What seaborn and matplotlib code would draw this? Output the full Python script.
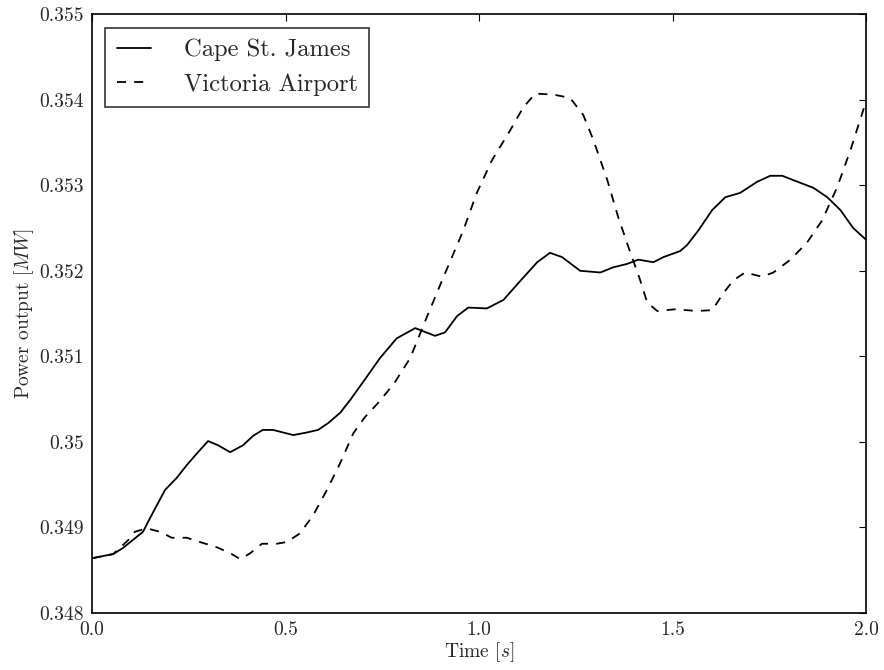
import pandas as pd
import matplotlib
matplotlib.use('Agg')
import matplotlib.pyplot as plt
import seaborn as sns

# Cape St. James (solid)
cape_t = [0.0, 0.055, 0.08, 0.132, 0.15, 0.189, 0.219, 0.245, 0.274, 0.30, 0.326, 0.357,
          0.39, 0.416, 0.441, 0.468, 0.52, 0.555, 0.584, 0.61, 0.641, 0.667, 0.705, 0.744,
          0.787, 0.835, 0.886, 0.912, 0.943, 0.972, 1.02, 1.063, 1.106, 1.15, 1.183, 1.214,
          1.261, 1.313, 1.346, 1.382, 1.411, 1.45, 1.476, 1.519, 1.537, 1.566, 1.602, 1.636,
          1.674, 1.718, 1.752, 1.783, 1.817, 1.863, 1.899, 1.933, 1.966, 2.0]
cape_p = [0.34864, 0.34869, 0.34876, 0.34895, 0.34911, 0.34944, 0.34958, 0.34973, 0.34988,
          0.35001, 0.34996, 0.34988, 0.34996, 0.35007, 0.35014, 0.35014, 0.35008, 0.35011,
          0.35014, 0.35022, 0.35034, 0.35049, 0.35073, 0.35098, 0.35121, 0.35133, 0.35124,
          0.35128, 0.35147, 0.35157, 0.35156, 0.35166, 0.35188, 0.35210, 0.35221, 0.35216,
          0.35200, 0.35198, 0.35204, 0.35208, 0.35213, 0.35210, 0.35216, 0.35223, 0.35230,
          0.35247, 0.35271, 0.35286, 0.35291, 0.35304, 0.35311, 0.35311, 0.35305, 0.35297,
          0.35286, 0.35271, 0.35250, 0.35236]

# Victoria Airport (dashed)
vic_t = [0.0, 0.055, 0.093, 0.111, 0.141, 0.176, 0.206, 0.245, 0.279, 0.322, 0.357, 0.383,
         0.409, 0.439, 0.477, 0.503, 0.537, 0.571, 0.607, 0.641, 0.675, 0.705, 0.736, 0.78,
         0.822, 0.865, 0.912, 0.959, 0.994, 1.033, 1.08, 1.114, 1.145, 1.191, 1.235, 1.269,
         1.295, 1.331, 1.359, 1.39, 1.416, 1.434, 1.46, 1.506, 1.563, 1.602, 1.631, 1.657,
         1.687, 1.731, 1.76, 1.804, 1.847, 1.886, 1.925, 1.959, 2.0]
vic_p = [0.34864, 0.34869, 0.34885, 0.34895, 0.34899, 0.34895, 0.34888, 0.34888, 0.34883,
         0.34877, 0.34870, 0.34863, 0.34870, 0.34881, 0.34881, 0.34883, 0.34893, 0.34914,
         0.34944, 0.34975, 0.35010, 0.35029, 0.35044, 0.35068, 0.35098, 0.35146, 0.35197,
         0.35247, 0.35291, 0.35329, 0.35364, 0.35391, 0.35407, 0.35406, 0.35402, 0.35382,
         0.35353, 0.35306, 0.35263, 0.35222, 0.35189, 0.35163, 0.35153, 0.35155, 0.35153,
         0.35154, 0.35174, 0.35189, 0.35198, 0.35193, 0.35198, 0.35213, 0.35233, 0.35259,
         0.35298, 0.35341, 0.35399]

x_ticks = [0.0, 0.5, 1.0, 1.5, 2.0]
x_tick_labels = ['0.0', '0.5', '1.0', '1.5', '2.0']
y_ticks = [0.348, 0.349, 0.350, 0.351, 0.352, 0.353, 0.354, 0.355]
y_tick_labels = ['0.348', '0.349', '0.35', '0.351', '0.352', '0.353', '0.354', '0.355']

df = pd.concat([
    pd.DataFrame({'time': cape_t, 'power': cape_p, 'site': 'Cape St. James'}),
    pd.DataFrame({'time': vic_t, 'power': vic_p, 'site': 'Victoria Airport'}),
])

sns.set_style('white')
plt.rcParams['font.family'] = ['cmr10']
plt.rcParams['mathtext.fontset'] = 'cm'
plt.rcParams['axes.formatter.use_mathtext'] = True

fig = plt.figure(figsize=(8.84, 6.70), dpi=100)
ax = fig.add_axes([0.104, 0.085, 0.876, 0.894])

sns.lineplot(data=df, x='time', y='power', style='site', color='black',
             dashes={'Cape St. James': '', 'Victoria Airport': (5, 4.5)},
             linewidth=1.3, ax=ax, sort=False)

ax.set_xlim(0, 2)
ax.set_ylim(0.348, 0.355)
ax.set_xticks(x_ticks)
ax.set_xticklabels(x_tick_labels)
ax.set_yticks(y_ticks)
ax.set_yticklabels(y_tick_labels)
ax.tick_params(direction='in', length=5, width=0.8, top=True, right=True,
               labelsize=14, color='black', pad=6)
for s in ax.spines.values():
    s.set_color('black')
    s.set_linewidth(1.2)

ax.set_xlabel('Time $[s]$', fontsize=14, labelpad=1)
ax.set_ylabel('Power output $[MW]$', fontsize=14, labelpad=2)

leg = ax.legend(loc='upper left', fontsize=17.7, frameon=True, fancybox=False,
                edgecolor='black', handlelength=1.4, borderpad=0.45,
                handletextpad=1.35, borderaxespad=0.55)
leg.get_frame().set_linewidth(1.2)
leg.set_title(None)

fig.savefig('out.png', dpi=100)
